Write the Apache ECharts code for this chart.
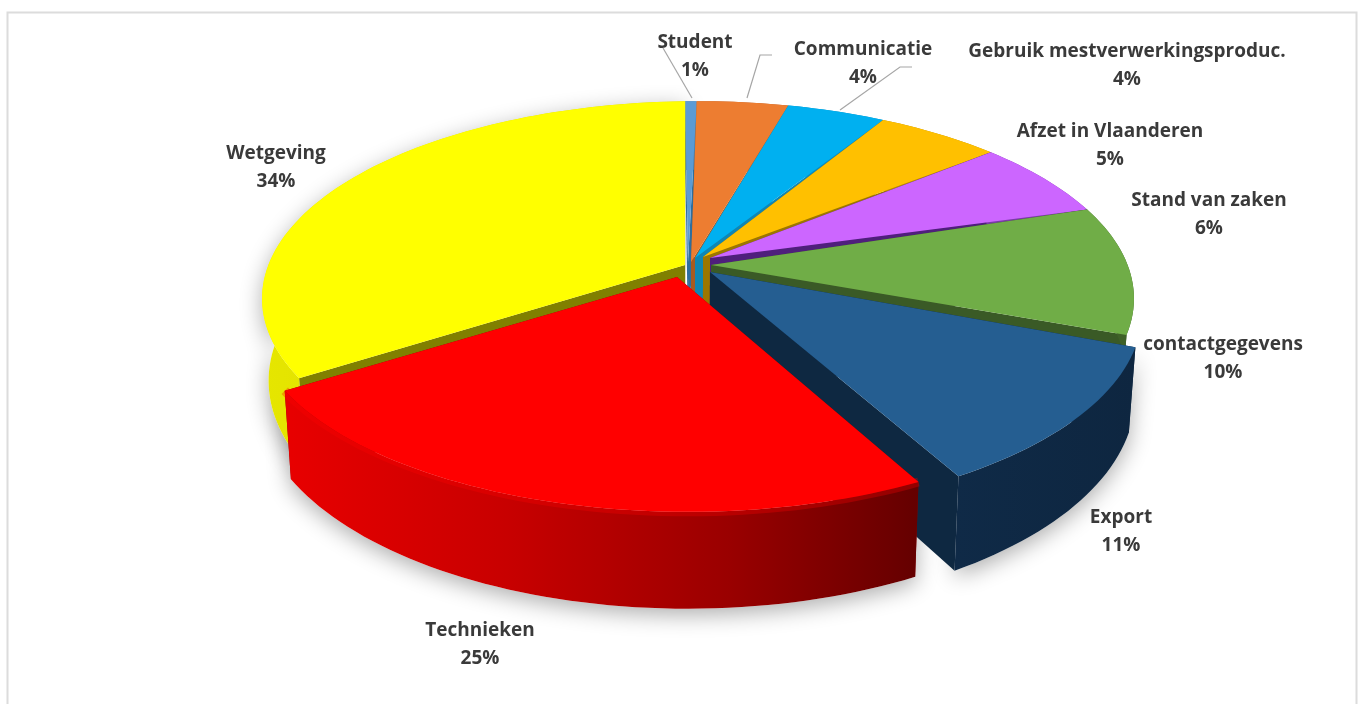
<!DOCTYPE html>
<html>
<head>
<meta charset="utf-8">
<style>html,body{margin:0;padding:0;background:#fff}#c{width:1362px;height:704px}</style>
<script src="https://cdn.jsdelivr.net/npm/echarts@6/dist/echarts.min.js"></script>
</head>
<body>
<div id="c"></div>
<script>
// ---- chart data ----
var categories = ['Student','Communicatie','Gebruik mestverwerkingsproduc.','Afzet in Vlaanderen','Stand van zaken','contactgegevens','Export','Technieken','Wetgeving'];
var percentValues = [1,4,4,5,6,10,11,25,34];

// ---- styling ----
var topColors  = ['#5B9BD5','#ED7D31','#00B0F0','#FFC000','#CC66FF','#70AD47','#255E91','#FF0000','#FFFF00'];
var cutColors  = ['#2E6E9E','#A85A20','#0F86B4','#9C7600','#4F1F7C','#3A5A26','#0E2841','#8A0000','#808000'];
var wallStops  = [
  [[0,'#4A7FAE'],[1,'#4A7FAE']],[[0,'#B8602A'],[1,'#B8602A']],[[0,'#0A8CC0'],[1,'#0A8CC0']],
  [[0,'#B88A00'],[1,'#B88A00']],[[0,'#7A3AA8'],[1,'#7A3AA8']],[[0,'#3F6128'],[1,'#3F6128']],
  [[0,'#0F2A47'],[1,'#0E2640']],
  [[0,'#E80000'],[0.35,'#C80000'],[0.7,'#9A0000'],[1,'#640000']],
  [[0,'#E6E600'],[1,'#D0D000']]
];
var drawOrder  = [0,1,2,3,4,8,5,6,7];
var angleTrim  = [[0,-1.8],[-1.8,-1.9],[-1.9,-0.9],[-0.9,0.6],[0.6,2],[2,3.8],[3.3,4],[7.5,2.4],[2.2,0]];
var arcOffset  = [[0,0],[0,0],[0,0],[0,0],[0,0],[0,0],[0.007,0.065],[-0.02,0.057],[0,0]];
var tipPoints  = [[688,262],[691,262],[695,258],[703,257],[710,258],[711,265],[710,272],[677,277],[685,265]];
var labelPos   = [[695,42],[863,49],[1127,51],[1110,131],[1209,200],[1223,344],[1121,517],[480,630],[276,153]];
var leaderLines = [
  [[663,48],[692,98]],
  [[772,55],[760,55],[747,98]],
  [[912,67],[900,67],[840,110]]
];

var CX=698, CY=266, R=430, A=192, K=0.165, DEPTH=80, SHRINK=0.985, START=-2;

function proj(u,v){ var f=1-K*v; return [CX+R*u/f, CY+A*v/f]; }
function drop(p,v){ return [CX+(p[0]-CX)*SHRINK, p[1]+DEPTH/(1-K*v)]; }
function dropTip(p){ return [CX+(p[0]-CX)*SHRINK, p[1]+DEPTH]; }

var total = percentValues.reduce(function(a,b){return a+b;},0);
var cum = [0];
percentValues.forEach(function(v,i){ cum.push(cum[i]+v); });

function buildSlice(i){
  var a0 = START + cum[i]/total*360 + angleTrim[i][0];
  var a1 = START + cum[i+1]/total*360 + angleTrim[i][1];
  var n = Math.max(4, Math.ceil((a1-a0)/1.5));
  var top=[], bottom=[];
  for(var j=0;j<=n;j++){
    var t=(a0+(a1-a0)*j/n)*Math.PI/180;
    var u=Math.sin(t)+arcOffset[i][0], v=-Math.cos(t)+arcOffset[i][1];
    var p=proj(u,v);
    top.push(p); bottom.push(drop(p,v));
  }
  return {top:top,bottom:bottom,tip:tipPoints[i],tipB:dropTip(tipPoints[i])};
}

function renderSlice(params, api){
  var i = params.dataIndex;
  var s = buildSlice(i);
  var order = drawOrder.indexOf(i);
  var base = 10 + order*10;
  var kids = [];
  var wallPts = s.top.concat(s.bottom.slice().reverse());
  var last = s.top.length-1;
  if(i>=6){
    kids.push({type:'polygon',z2:1,silent:true,shape:{points:wallPts},
      style:{fill:'#fff',shadowBlur:22,shadowColor:'rgba(0,0,0,0.32)',shadowOffsetY:6}});
  }
  // radial cuts
  kids.push({type:'polygon',z2:base,silent:true,shape:{points:[s.tip,s.top[0],s.bottom[0],s.tipB]},style:{fill:cutColors[i]}});
  kids.push({type:'polygon',z2:base+1,silent:true,shape:{points:[s.tip,s.top[last],s.bottom[last],s.tipB]},style:{fill:cutColors[i]}});
  // outer wall
  var stops = wallStops[i].map(function(d){return {offset:d[0],color:d[1]};});
  kids.push({type:'polygon',z2:base+2,silent:true,shape:{points:wallPts},
    style:{fill:{type:'linear',x:0,y:0,x2:1,y2:0,colorStops:stops}}});
  // bevel along the front rim
  if(i===7){
    kids.push({type:'polyline',z2:base+3,silent:true,shape:{points:s.top},
      style:{fill:null,stroke:topColors[i],lineWidth:9,opacity:0.3}});
  }
  // top face
  kids.push({type:'polygon',z2:base+4,silent:true,shape:{points:[s.tip].concat(s.top)},
    style:{fill:topColors[i]}});
  // label
  kids.push({type:'text',z2:200,silent:true,style:{
    text:categories[i]+'\n'+api.value(0)+'%',x:labelPos[i][0],y:labelPos[i][1]-13,
    align:'center',verticalAlign:'top',fill:'#3A3A3A',lineHeight:28,
    font:'bold 19px "Open Sans", sans-serif'}});
  return {type:'group',children:kids};
}

var graphics = [{type:'rect',silent:true,z:-1,shape:{x:7.5,y:12.5,width:1349,height:720},
  style:{fill:'#fff',stroke:'#DCDCDC',lineWidth:2}}];
leaderLines.forEach(function(pts){
  graphics.push({type:'polyline',silent:true,z:5,shape:{points:pts},style:{fill:null,stroke:'#A6A6A6',lineWidth:1.2}});
});

var chart = echarts.init(document.getElementById('c'));
chart.setOption({
  animation:false,
  backgroundColor:'#fff',
  graphic:graphics,
  series:[{type:'custom',coordinateSystem:'none',renderItem:renderSlice,clip:false,
    encode:{value:0},
    data:percentValues.map(function(v,i){return {name:categories[i],value:[v]};}),z:3}]
});
</script>
</body>
</html>
